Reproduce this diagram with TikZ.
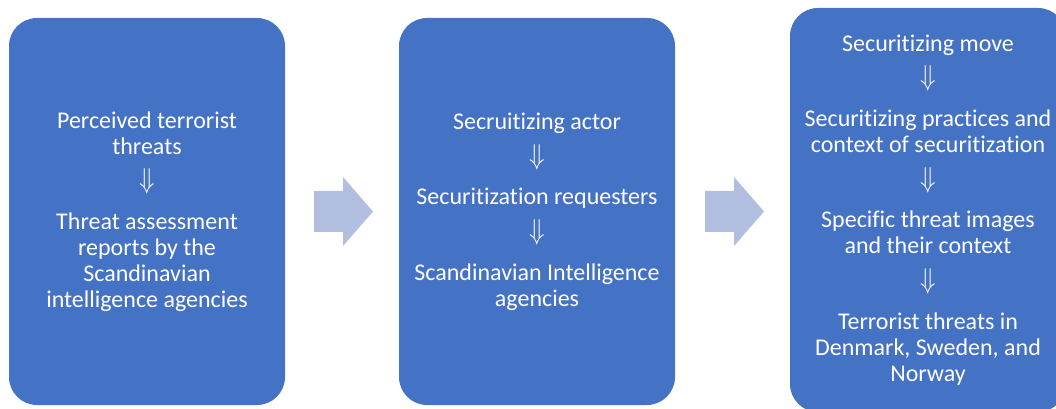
\documentclass[tikz,border=0pt]{standalone}
\usepackage{graphicx}
\usepackage{fontspec}
\setmainfont[Ligatures={NoCommon}]{Carlito}
\usetikzlibrary{positioning}
\definecolor{boxblue}{HTML}{4472C4}
\definecolor{arrowblue}{HTML}{B1BEE0}
\newcommand{\stepdown}{\\[6.5pt]\raisebox{0pt}[0pt][0pt]{\scalebox{1.1}[1.25]{$\Downarrow$}}\\[11pt]}

\begin{document}
\begin{tikzpicture}[x=0.75pt,y=-0.75pt]
    \tikzstyle{stage}=[rectangle, rounded corners=21pt, fill=boxblue, text=white, align=center, inner sep=0pt, minimum width=207pt, font=\fontsize{18}{19.5}\selectfont]
    \tikzstyle{flow}=[fill=arrowblue]
    \useasboundingbox (0,0) rectangle (1056,409);
    \clip (0,0) rectangle (1056,409);

    % Draw the three stages
    \node[stage, minimum height=290.25pt] (S-1) at (147,211.5) {Perceived terrorist\\threats\stepdown Threat assessment\\reports by the\\Scandinavian\\intelligence agencies};
    \node[stage, minimum height=290.25pt] (S-2) at (537,211.5) {Secruitizing actor\stepdown Securitization requesters\stepdown Scandinavian Intelligence\\agencies};
    \node[stage, minimum height=303pt] (S-3) at (928,210) {Securitizing move\stepdown Securitizing practices and\\context of securitization\stepdown Specific threat images\\and their context\stepdown Terrorist threats in\\Denmark, Sweden, and\\Norway};

    % Block arrows between the stages
    \fill[flow] (314,191) -- (343,191) -- (343,177) -- (373,211.5) -- (343,246) -- (343,232) -- (314,232) -- cycle;
    \fill[flow] (705,191) -- (734,191) -- (734,177) -- (764,211.5) -- (734,246) -- (734,232) -- (705,232) -- cycle;
\end{tikzpicture}
\end{document}
